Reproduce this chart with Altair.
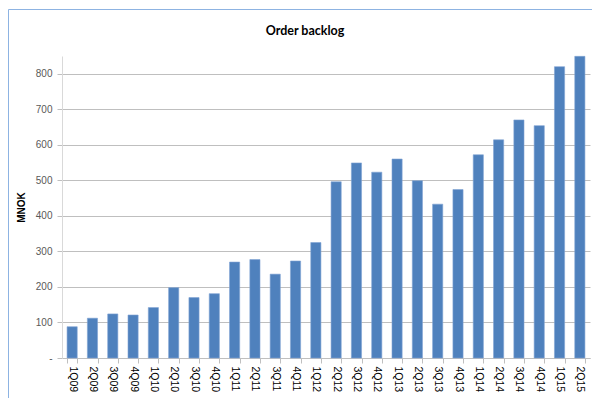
import altair as alt
import pandas as pd

quarters = ["1Q09", "2Q09", "3Q09", "4Q09", "1Q10", "2Q10", "3Q10", "4Q10",
            "1Q11", "2Q11", "3Q11", "4Q11", "1Q12", "2Q12", "3Q12", "4Q12",
            "1Q13", "2Q13", "3Q13", "4Q13", "1Q14", "2Q14", "3Q14", "4Q14",
            "1Q15", "2Q15"]
backlog = [88, 112, 124, 121, 142, 198, 170, 181,
           270, 277, 236, 273, 325, 496, 549, 523,
           560, 499, 433, 474, 572, 614, 670, 654,
           820, 849]
y_ticks = [0, 100, 200, 300, 400, 500, 600, 700, 800]
chart_title = "Order backlog"
y_title = "MNOK"

df = pd.DataFrame({"q": quarters, "v": backlog})

W, H = 528, 302

bars = alt.Chart(df).mark_bar(color="#4F81BD", stroke="#7FA3D3", strokeWidth=0.6).encode(
    x=alt.X("q:N", sort=quarters, title=None,
            scale=alt.Scale(paddingInner=0.5, paddingOuter=0.25),
            axis=alt.Axis(labelAngle=90, labelFont="Liberation Sans", labelFontSize=10.5,
                          labelColor="#000000", tickBand="extent", tickSize=5,
                          tickColor="#BFBFBF", domainColor="#BFBFBF", labelPadding=3,
                          grid=False)),
    y=alt.Y("v:Q", title=y_title,
            scale=alt.Scale(domain=[0, 850], nice=False),
            axis=alt.Axis(values=y_ticks, labelFont="Liberation Sans", labelFontSize=10,
                          labelColor="#595959", tickColor="#BFBFBF", tickSize=5,
                          domainColor="#D9D9D9", gridColor="#BFBFBF", grid=True,
                          labelPadding=5,
                          labelExpr="datum.value == 0 ? '-\u00a0\u00a0' : datum.label",
                          titleFont="Liberation Sans", titleFontSize=10,
                          titleFontWeight="bold", titleColor="#000000", titlePadding=9)),
)

title_df = pd.DataFrame({"t": [chart_title]})
title = alt.Chart(title_df).mark_text(font="Lato", fontSize=12.5, fontWeight="bold",
                                      color="#000000", baseline="middle", align="center").encode(
    text="t:N", x=alt.value(243), y=alt.value(-25.5))

border = alt.Chart(title_df).mark_rect(fill=None, stroke="#8DB3E2", strokeWidth=1).encode(
    x=alt.value(-53.5), x2=alt.value(620), y=alt.value(-46.5), y2=alt.value(420))

chart = alt.layer(border, bars, title).properties(
    width=W, height=H,
    autosize=alt.AutoSizeParams(type="none"),
    padding={"left": 54, "top": 48, "right": 2, "bottom": 40},
).configure_view(stroke=None)

chart.save("out.html", embed_options={"renderer": "svg", "actions": False})
